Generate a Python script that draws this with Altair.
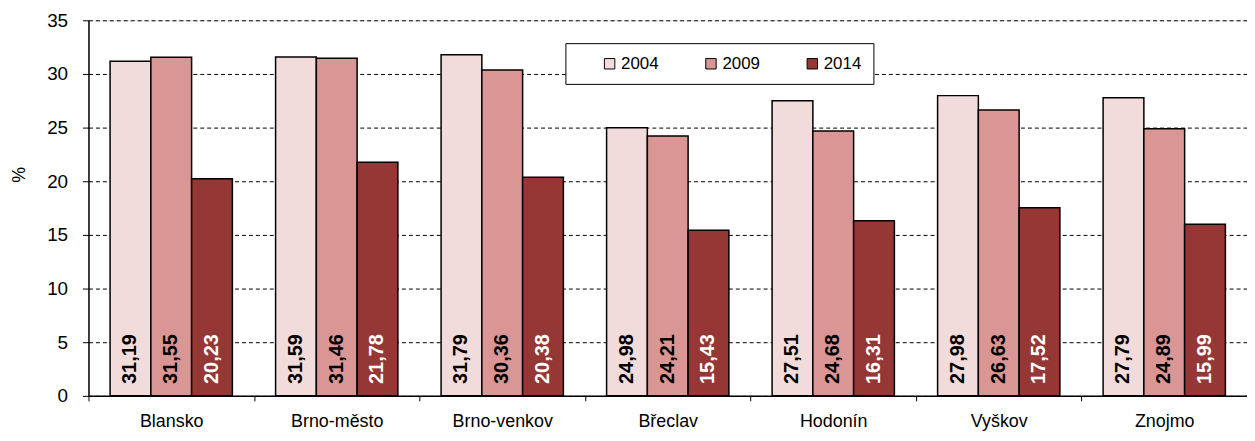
import altair as alt
import pandas as pd

districts = ["Blansko", "Brno-město", "Brno-venkov", "Břeclav", "Hodonín", "Vyškov", "Znojmo"]
years = ["2004", "2009", "2014"]
v2004 = [31.19, 31.59, 31.79, 24.98, 27.51, 27.98, 27.79]
v2009 = [31.55, 31.46, 30.36, 24.21, 24.68, 26.63, 24.89]
v2014 = [20.23, 21.78, 20.38, 15.43, 16.31, 17.52, 15.99]
bar_colors = ["#F2DCDB", "#D99694", "#953735"]
text_colors = ["#000000", "#000000", "#FFFFFF"]

rows = []
for y, vals in zip(years, [v2004, v2009, v2014]):
    for d, v in zip(districts, vals):
        rows.append({"district": d, "year": y, "value": v,
                     "label": f"{v:.2f}".replace(".", ",")})
df = pd.DataFrame(rows)

FONT = "Liberation Sans"

x_enc = alt.X("district:N", sort=districts, title=None,
              scale=alt.Scale(paddingInner=0, paddingOuter=0),
              axis=alt.Axis(labelAngle=0, tickBand="extent", tickSize=5,
                            tickColor="black", domainColor="black", domainWidth=1.5,
                            labelFontSize=18, labelPadding=12, labelColor="black",
                            labelFont=FONT, grid=False))
xoff = alt.XOffset("year:N", sort=years,
                   scale=alt.Scale(paddingInner=0, paddingOuter=0.53))
y_enc = alt.Y("value:Q", title="%",
              scale=alt.Scale(domain=[0, 35], nice=False),
              axis=alt.Axis(values=[0, 5, 10, 15, 20, 25, 30, 35], tickSize=6,
                            tickColor="black", domainColor="black", domainWidth=1.5,
                            labelFontSize=19, labelPadding=15, labelColor="black",
                            labelFont=FONT, grid=True, gridColor="black",
                            gridDash=[4, 3], gridWidth=1,
                            titleFontSize=18, titleFont=FONT, titleFontWeight="normal",
                            titleColor="black", titleAngle=270, titleBaseline="middle",
                            titleAlign="center", titleX=-69, titleY=155))

bars = alt.Chart(df).mark_bar(stroke="black", strokeWidth=1.5).encode(
    x=x_enc, xOffset=xoff, y=y_enc,
    color=alt.Color("year:N", sort=years,
                    scale=alt.Scale(domain=years, range=bar_colors),
                    legend=alt.Legend(title=None, orient="none", legendX=480, legendY=23,
                                      direction="horizontal", strokeColor="black",
                                      fillColor="white", padding=12,
                                      symbolType="square", symbolSize=110,
                                      symbolOffset=24,
                                      symbolStrokeColor="black", symbolStrokeWidth=1,
                                      labelFontSize=17, labelFont=FONT, labelColor="black",
                                      labelOffset=3, columnPadding=20)),
)

labels = alt.Chart(df).mark_text(angle=270, align="left", baseline="middle",
                                 dx=12, fontSize=20, fontWeight="bold", font=FONT).encode(
    x=alt.X("district:N", sort=districts),
    xOffset=alt.XOffset("year:N", sort=years),
    y=alt.datum(0),
    text="label:N",
    color=alt.Color("year:N", sort=years,
                    scale=alt.Scale(domain=years, range=text_colors), legend=None),
)

chart = alt.layer(bars, labels).resolve_scale(color="independent").properties(
    width=1166, height=378,
    autosize=alt.AutoSizeParams(type="none"),
    padding={"left": 81, "top": 11, "right": 0, "bottom": 36},
).configure_view(stroke=None).configure(background="white")

chart.save("out.html", embed_options={"renderer": "svg", "actions": False})
